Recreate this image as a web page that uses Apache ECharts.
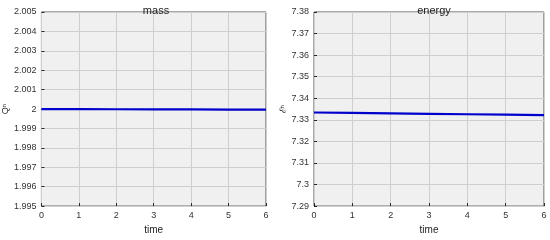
<!DOCTYPE html>
<html>
<head>
<meta charset="utf-8">
<script src="https://cdn.jsdelivr.net/npm/echarts@6/dist/echarts.min.js"></script>
<style>
  html, body { margin: 0; padding: 0; background: #fff; }
  #chart { width: 550px; height: 240px; }
</style>
</head>
<body>
<div id="chart"></div>
<script>
var timeVals = [0, 1, 2, 3, 4, 5, 6];
var massVals = [2.00000, 1.999995, 1.99999, 1.999985, 1.99998, 1.999975, 1.99997];
var energyVals = [7.3334, 7.3332, 7.3330, 7.3328, 7.3326, 7.3324, 7.3322];
var titles = ['mass', 'energy'];
var yNames = ['Q\u207f', '\u2130\u207f'];

function pairs(ys) {
    var out = [];
    for (var i = 0; i < timeVals.length; i++) out.push([timeVals[i], ys[i]]);
    return out;
}

var font = 'Liberation Sans, Arial, sans-serif';
var tickLbl = { color: '#333', fontSize: 9, fontFamily: font };

var chart = echarts.init(document.getElementById('chart'));
chart.setOption({
    animation: false,
    title: [
        { text: titles[0], left: 151, top: 0, textAlign: 'center',
          textStyle: { fontSize: 11, fontWeight: 'normal', color: '#222', fontFamily: font } },
        { text: titles[1], left: 429, top: 0, textAlign: 'center',
          textStyle: { fontSize: 11, fontWeight: 'normal', color: '#222', fontFamily: font } }
    ],
    grid: [
        { left: 37, top: 12, width: 229, height: 198, show: true, backgroundColor: '#f0f0f0',
          borderColor: '#262626', borderWidth: 0.8 },
        { left: 314, top: 12, width: 230, height: 198, show: true, backgroundColor: '#f0f0f0',
          borderColor: '#262626', borderWidth: 0.8 }
    ],
    xAxis: [0, 1].map(function (g) {
        return {
            type: 'value', gridIndex: g, min: 0, max: 6, interval: 1,
            name: 'time', nameLocation: 'middle', nameGap: 16,
            nameTextStyle: { fontSize: 10, color: '#222', fontFamily: font },
            axisLine: { show: false },
            axisTick: { inside: true, length: 3, lineStyle: { color: '#262626' } },
            axisLabel: Object.assign({ margin: 5 }, tickLbl),
            splitLine: { lineStyle: { color: '#cfcfcf', width: 1 } }
        };
    }),
    yAxis: [
        { type: 'value', gridIndex: 0, min: 1.995, max: 2.005, interval: 0.001,
          name: yNames[0], nameLocation: 'middle', nameGap: 25, nameRotate: 90,
          nameTextStyle: { fontSize: 9, color: '#222', fontFamily: font },
          axisLine: { show: false },
          axisTick: { inside: true, length: 3, lineStyle: { color: '#262626' } },
          axisLabel: Object.assign({ margin: 5, formatter: function (v) { return String(+v.toFixed(3)); } }, tickLbl),
          splitLine: { lineStyle: { color: '#cfcfcf', width: 1 } } },
        { type: 'value', gridIndex: 1, min: 7.29, max: 7.38, interval: 0.01,
          name: yNames[1], nameLocation: 'middle', nameGap: 21, nameRotate: 90,
          nameTextStyle: { fontSize: 9, color: '#222', fontFamily: font },
          axisLine: { show: false },
          axisTick: { inside: true, length: 3, lineStyle: { color: '#262626' } },
          axisLabel: Object.assign({ margin: 5, formatter: function (v) { return String(+v.toFixed(2)); } }, tickLbl),
          splitLine: { lineStyle: { color: '#cfcfcf', width: 1 } } }
    ],
    series: [
        { type: 'line', xAxisIndex: 0, yAxisIndex: 0, data: pairs(massVals), showSymbol: false,
          lineStyle: { color: '#0000cc', width: 2.2 } },
        { type: 'line', xAxisIndex: 1, yAxisIndex: 1, data: pairs(energyVals), showSymbol: false,
          lineStyle: { color: '#0000cc', width: 2.2 } }
    ]
});
</script>
</body>
</html>
